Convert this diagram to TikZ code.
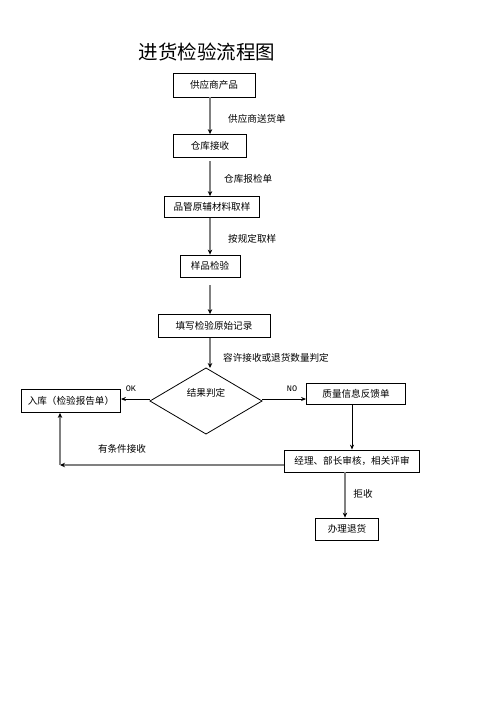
\documentclass[tikz,border=0pt]{standalone}
\usepackage{fontspec}
\setmainfont{Noto Sans CJK SC}
\newfontfamily\latinmono{Liberation Mono}
\usetikzlibrary{arrows.meta}
\newlength{\du}
\setlength{\du}{1pt}
\definecolor{dialinecolor}{rgb}{0.000000, 0.000000, 0.000000}
\definecolor{flowgray}{rgb}{0.500000, 0.500000, 0.500000}
\tikzset{
  stepbox/.style={draw=dialinecolor, line width=0.8\du, inner sep=0pt, font=\fontsize{9.6}{11}\selectfont},
  grayflow/.style={draw=flowgray, line width=2.2\du, -{Stealth[black,length=5pt,width=4.5pt]}},
  blackflow/.style={draw=dialinecolor, line width=0.8\du, -{Stealth[black,length=5pt,width=4pt]}},
  flowlabel/.style={font=\fontsize{9.6}{11}\selectfont, inner sep=0pt}
}

\begin{document}
\begin{tikzpicture}
\pgftransformxscale{1.000000}
\pgftransformyscale{-1.000000}
\useasboundingbox (0\du,0\du) rectangle (496\du,702\du);
% title
\node[inner sep=0pt, font=\fontsize{19.5}{22}\selectfont] (title) at (207\du,52\du){进货检验流程图};
% boxes
\node[stepbox, minimum width=82\du, minimum height=24\du] (supplier) at (214\du,85\du){供应商产品};
\node[stepbox, minimum width=73\du, minimum height=23\du] (store) at (210\du,146\du){仓库接收};
\node[stepbox, minimum width=95\du, minimum height=21\du] (sampling) at (212\du,207\du){品管原辅材料取样};
\node[stepbox, minimum width=60\du, minimum height=22\du] (check) at (210\du,266\du){样品检验};
\node[stepbox, minimum width=112\du, minimum height=23\du] (record) at (214\du,326\du){填写检验原始记录};
\draw[dialinecolor, line width=0.8\du] (150\du,401\du)--(206\du,368\du)--(262\du,401\du)--(206\du,434\du)--cycle;
\coordinate (judgeW) at (150\du,399\du);
\coordinate (judgeE) at (262\du,399\du);
\coordinate (judgeN) at (210\du,368\du);
\node[flowlabel] (judge) at (206\du,393\du){结果判定};
\node[stepbox, minimum width=99\du, minimum height=23\du] (instock) at (71\du,401\du){入库（检验报告单）};
\node[stepbox, minimum width=99\du, minimum height=21\du] (feedback) at (356\du,394\du){质量信息反馈单};
\node[stepbox, minimum width=135\du, minimum height=22\du] (review) at (352\du,461\du){经理、部长审核，相关评审};
\node[stepbox, minimum width=63\du, minimum height=22\du] (refund) at (347\du,529\du){办理退货};
% axes of the arrows
\coordinate (mainaxis) at (210\du,0\du);
\coordinate (rightaxis) at (352\du,0\du);
\coordinate (rejectaxis) at (345\du,0\du);
% main flow
\draw[grayflow] (supplier.south -| mainaxis) -- (store.north -| mainaxis);
\draw[grayflow] (210\du,161\du) -- (sampling.north -| mainaxis);
\draw[grayflow] (sampling.south -| mainaxis) -- (check.north -| mainaxis);
\draw[grayflow] (210\du,285\du) -- (record.north -| mainaxis);
\draw[grayflow] (record.south -| mainaxis) -- (judgeN);
% labels
\node[flowlabel, anchor=west] (lab1) at (228\du,119\du){供应商送货单};
\node[flowlabel, anchor=west] (lab2) at (224\du,179\du){仓库报检单};
\node[flowlabel, anchor=west] (lab3) at (228\du,239\du){按规定取样};
\node[flowlabel, anchor=west] (lab4) at (223\du,358\du){容许接收或退货数量判定};
% decision
\draw[blackflow] (judgeW) -- (instock.east |- judgeW);
\node[flowlabel, font=\latinmono\fontsize{8.5}{9}\selectfont] (ok) at (131\du,389\du){OK};
\draw[blackflow] (judgeE) -- (feedback.west |- judgeE);
\node[flowlabel, font=\latinmono\fontsize{8.5}{9}\selectfont] (no) at (292\du,389\du){NO};
\draw[blackflow] (feedback.south -| rightaxis) -- (review.north -| rightaxis);
% conditional accept
\coordinate (turn) at (60\du,465\du);
\draw[grayflow] (review.west |- turn) -- (turn);
\draw[grayflow] (turn) -- (instock.south -| turn);
\node[flowlabel] (lab5) at (122\du,449\du){有条件接收};
% reject
\draw[grayflow] (review.south -| rejectaxis) -- (refund.north -| rejectaxis);
\node[flowlabel] (lab6) at (363\du,494\du){拒收};
\end{tikzpicture}
\end{document}
